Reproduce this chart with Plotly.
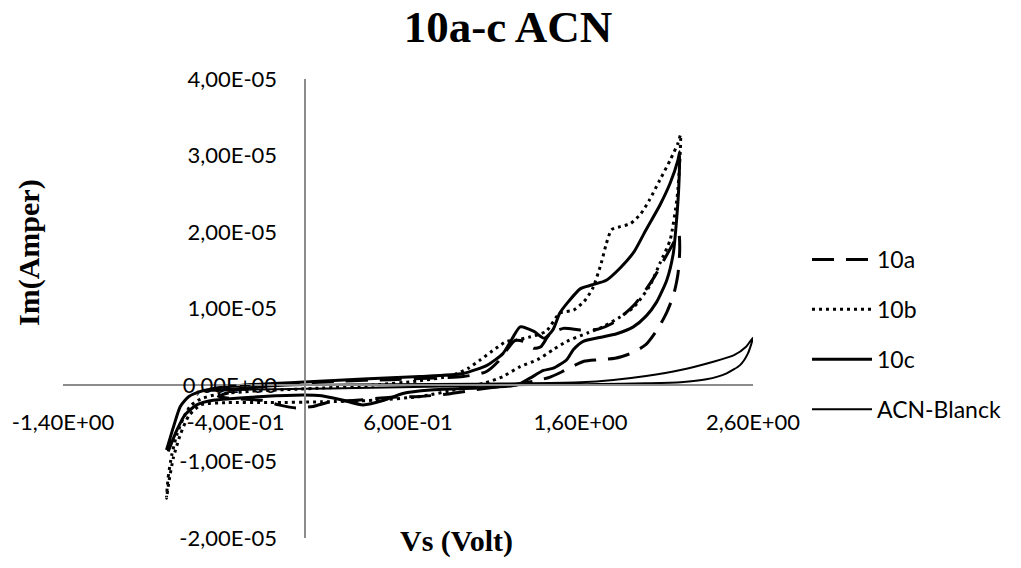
import plotly.graph_objects as go

# ---- data (Vs in Volt, Im in Ampere) ----
x_10a = [-0.50, -0.35, -0.10, 0.20, 0.50, 0.75, 0.92, 1.05, 1.12, 1.18, 1.22, 1.27, 1.33, 1.37, 1.42, 1.50,
         1.60, 1.70, 1.78, 1.85, 1.92, 1.98, 2.03, 2.08, 2.13, 2.17,
         2.175, 2.165, 2.14, 2.10, 2.05, 1.98, 1.90, 1.80, 1.70, 1.62, 1.56, 1.49, 1.42, 1.33, 1.20,
         1.00, 0.82, 0.67, 0.50, 0.30, 0.15, 0.05, -0.05, -0.15, -0.25, -0.40, -0.50]
y_10a = [-0.15e-5, -0.05e-5, 0.01e-5, 0.05e-5, 0.07e-5, 0.09e-5, 0.11e-5, 0.17e-5, 0.30e-5, 0.48e-5, 0.58e-5,
         0.57e-5, 0.48e-5, 0.50e-5, 0.66e-5, 0.74e-5, 0.72e-5, 0.73e-5, 0.80e-5, 0.92e-5, 1.07e-5, 1.25e-5,
         1.42e-5, 1.62e-5, 1.82e-5, 1.98e-5,
         1.75e-5, 1.45e-5, 1.18e-5, 0.95e-5, 0.74e-5, 0.53e-5, 0.42e-5, 0.35e-5, 0.33e-5, 0.31e-5, 0.25e-5,
         0.17e-5, 0.10e-5, 0.05e-5, 0.0, -0.06e-5, -0.12e-5, -0.15e-5, -0.16e-5, -0.20e-5, -0.22e-5,
         -0.28e-5, -0.30e-5, -0.26e-5, -0.20e-5, -0.18e-5, -0.15e-5]

x_10b = [-0.80, -0.79, -0.77, -0.74, -0.70, -0.66, -0.60, -0.50, -0.30, -0.10, 0.10, 0.40, 0.65, 0.85, 0.95,
         1.02, 1.11, 1.17, 1.23, 1.31, 1.40, 1.48, 1.56, 1.62, 1.67, 1.72, 1.75, 1.78, 1.83, 1.89, 1.95, 2.00,
         2.06, 2.12, 2.165, 2.18,
         2.175, 2.16, 2.12, 2.06, 2.00, 1.91, 1.83, 1.73, 1.64, 1.52, 1.44, 1.35, 1.25, 1.15, 1.05, 0.90,
         0.67, 0.40, 0.10, -0.20, -0.45, -0.60, -0.67, -0.72, -0.76, -0.785, -0.80]
y_10b = [-1.48e-5, -1.20e-5, -0.92e-5, -0.65e-5, -0.42e-5, -0.27e-5, -0.18e-5, -0.12e-5, -0.08e-5, -0.06e-5,
         -0.04e-5, 0.0, 0.05e-5, 0.12e-5, 0.22e-5, 0.33e-5, 0.48e-5, 0.57e-5, 0.59e-5, 0.63e-5, 0.70e-5,
         0.94e-5, 0.98e-5, 1.09e-5, 1.26e-5, 1.59e-5, 1.85e-5, 2.03e-5, 2.07e-5, 2.11e-5, 2.24e-5, 2.42e-5,
         2.68e-5, 2.94e-5, 3.16e-5, 3.27e-5,
         2.90e-5, 2.45e-5, 1.90e-5, 1.59e-5, 1.29e-5, 1.02e-5, 0.89e-5, 0.76e-5, 0.68e-5, 0.57e-5, 0.46e-5,
         0.33e-5, 0.24e-5, 0.11e-5, 0.03e-5, -0.05e-5, -0.15e-5, -0.20e-5, -0.22e-5, -0.23e-5, -0.23e-5,
         -0.26e-5, -0.40e-5, -0.65e-5, -0.95e-5, -1.25e-5, -1.48e-5]

x_10c = [-0.80, -0.76, -0.72, -0.67, -0.61, -0.51, -0.34, 0.0, 0.34, 0.67, 0.92, 1.06, 1.15, 1.20, 1.25, 1.33,
         1.39, 1.44, 1.48, 1.53, 1.60, 1.67, 1.75, 1.83, 1.91, 1.98, 2.06, 2.12, 2.165, 2.175,
         2.17, 2.157, 2.138, 2.10, 2.04, 1.98, 1.906, 1.81, 1.71, 1.616, 1.558, 1.52, 1.443, 1.385, 1.307,
         1.23, 1.00, 0.73, 0.57, 0.46, 0.34, 0.225, 0.10, -0.007, -0.24, -0.53, -0.625, -0.693, -0.74, -0.79]
y_10c = [-0.85e-5, -0.55e-5, -0.28e-5, -0.15e-5, -0.09e-5, -0.04e-5, 0.0, 0.04e-5, 0.08e-5, 0.11e-5, 0.15e-5,
         0.26e-5, 0.41e-5, 0.59e-5, 0.76e-5, 0.70e-5, 0.61e-5, 0.72e-5, 0.94e-5, 1.09e-5, 1.26e-5, 1.31e-5,
         1.37e-5, 1.53e-5, 1.74e-5, 2.03e-5, 2.35e-5, 2.64e-5, 2.94e-5, 3.05e-5,
         2.60e-5, 2.16e-5, 1.72e-5, 1.37e-5, 1.08e-5, 0.90e-5, 0.76e-5, 0.67e-5, 0.62e-5, 0.57e-5, 0.46e-5,
         0.33e-5, 0.22e-5, 0.19e-5, 0.09e-5, 0.0, -0.04e-5, -0.065e-5, -0.11e-5, -0.20e-5, -0.26e-5,
         -0.20e-5, -0.14e-5, -0.13e-5, -0.15e-5, -0.20e-5, -0.26e-5, -0.39e-5, -0.59e-5, -0.87e-5]

x_blank = [-0.60, -0.30, 0.0, 0.50, 1.00, 1.30, 1.60, 1.79, 1.98, 2.18, 2.37, 2.49, 2.56, 2.60,
           2.57, 2.525, 2.447, 2.33, 2.18, 1.98, 1.71, 1.30, 0.80, 0.30, 0.0, -0.30, -0.60]
y_blank = [-0.08e-5, -0.03e-5, 0.0, 0.01e-5, 0.015e-5, 0.022e-5, 0.035e-5, 0.066e-5, 0.118e-5, 0.196e-5,
           0.305e-5, 0.39e-5, 0.50e-5, 0.62e-5,
           0.41e-5, 0.26e-5, 0.153e-5, 0.074e-5, 0.035e-5, 0.022e-5, 0.013e-5, 0.0, -0.02e-5, -0.04e-5,
           -0.05e-5, -0.06e-5, -0.08e-5]

x_ticks = [-1.4, -0.4, 0.6, 1.6, 2.6]
x_ticktext = ["-1,40E+00", "-4,00E-01", "6,00E-01", "1,60E+00", "2,60E+00"]
y_ticks = [-2e-5, -1e-5, 0, 1e-5, 2e-5, 3e-5, 4e-5]
y_ticktext = ["-2,00E-05", "-1,00E-05", "0,00E+00", "1,00E-05", "2,00E-05", "3,00E-05", "4,00E-05"]

X_RANGE = [-1.4, 2.6]
Y_RANGE = [-2e-5, 4e-5]

TICK_FONT = dict(family="Lato", size=22, color="black")
SERIF_BOLD = "Liberation Serif"

fig = go.Figure()
series = [
    ("10a", x_10a, y_10a, dict(color="black", width=3, dash="22px,12px")),
    ("10b", x_10b, y_10b, dict(color="black", width=3, dash="3px,4px")),
    ("10c", x_10c, y_10c, dict(color="black", width=3)),
    ("ACN-Blanck", x_blank, y_blank, dict(color="black", width=2)),
]
for name, xs, ys, ln in series:
    fig.add_trace(go.Scatter(x=xs, y=ys, mode="lines", name=name, legendgroup=name,
                             line=dict(shape="spline", smoothing=0.6, **ln)))

x_pos = (0 - Y_RANGE[0]) / (Y_RANGE[1] - Y_RANGE[0])
y_pos = (0 - X_RANGE[0]) / (X_RANGE[1] - X_RANGE[0])

fig.update_layout(
    width=1021, height=568,
    margin=dict(l=63, r=268, t=79, b=30),
    paper_bgcolor="white", plot_bgcolor="white",
    showlegend=True,
    title=dict(text="<b>10a-c ACN</b>", x=508 / 1021, xanchor="center", xref="container",
               y=1 - 26 / 568, yanchor="middle", yref="container",
               font=dict(family=SERIF_BOLD, size=45, color="black")),
    xaxis=dict(range=X_RANGE, tickvals=x_ticks, ticktext=x_ticktext, anchor="free", position=x_pos,
               showline=True, linecolor="#8c8c8c", linewidth=2, showgrid=False, zeroline=False,
               ticks="", tickfont=TICK_FONT, ticklabelstandoff=18),
    yaxis=dict(range=Y_RANGE, tickvals=y_ticks, ticktext=y_ticktext, anchor="free", position=y_pos,
               showline=True, linecolor="#8c8c8c", linewidth=2, showgrid=False, zeroline=False,
               ticks="", tickfont=TICK_FONT, ticklabelstandoff=22),
    legend=dict(x=(807 - 63) / 690, y=(538 - 238) / 459, xanchor="left", yanchor="top",
                font=dict(family="Lato", size=23, color="black"), tracegroupgap=17,
                bgcolor="rgba(0,0,0,0)", itemwidth=60),
    annotations=[
        dict(text="<b>Im(Amper)</b>", textangle=-90, xref="paper", yref="paper",
             x=(29 - 63) / 690, y=(538 - 253) / 459, showarrow=False, xanchor="center", yanchor="middle",
             font=dict(family=SERIF_BOLD, size=30, color="black")),
        dict(text="<b>Vs (Volt)</b>", xref="paper", yref="paper",
             x=(456 - 63) / 690, y=(538 - 541) / 459, showarrow=False, xanchor="center", yanchor="middle",
             font=dict(family=SERIF_BOLD, size=30, color="black")),
    ],
)

fig.write_html("out.html")
